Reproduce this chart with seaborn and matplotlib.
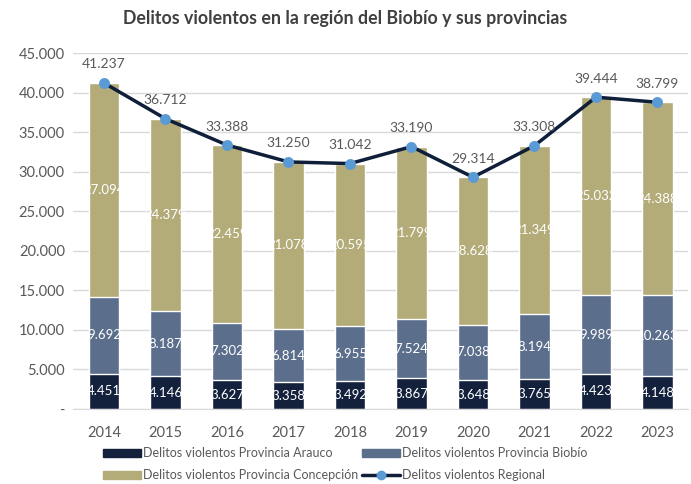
import numpy as np
import pandas as pd
import seaborn as sns
import matplotlib.pyplot as plt
from matplotlib.patches import Patch
from matplotlib.lines import Line2D

years = ["2014", "2015", "2016", "2017", "2018", "2019", "2020", "2021", "2022", "2023"]
arauco = [4451, 4146, 3627, 3358, 3492, 3867, 3648, 3765, 4423, 4148]
biobio = [9692, 8187, 7302, 6814, 6955, 7524, 7038, 8194, 9989, 10263]
concepcion = [27094, 24379, 22459, 21078, 20595, 21799, 18628, 21349, 25032, 24388]
regional = [41237, 36712, 33388, 31250, 31042, 33190, 29314, 33308, 39444, 38799]

c_arauco = "#14213d"
c_biobio = "#5b6e8c"
c_conc = "#b3ab78"
c_line = "#0f1f3a"
c_marker = "#5b9bd5"
gray = "#595959"


def fmt(v):
    return f"{v:,}".replace(",", ".")


df = pd.DataFrame({"year": years, "arauco": arauco, "biobio": biobio, "concepcion": concepcion,
                   "regional": regional})
df["top"] = df["arauco"] + df["biobio"] + df["concepcion"]
df["mid"] = df["arauco"] + df["biobio"]

sns.set_style("white")
plt.rcParams["font.family"] = ["Lato", "DejaVu Sans"]
fig = plt.figure(figsize=(6.91, 4.84), dpi=100)
ax = fig.add_axes([0.106, 0.155, 0.89, 0.735])

sns.barplot(data=df, x="year", y="top", color=c_conc, width=0.5, saturation=1, ax=ax, zorder=2)
sns.barplot(data=df, x="year", y="mid", color=c_biobio, width=0.5, saturation=1, ax=ax, zorder=2)
sns.barplot(data=df, x="year", y="arauco", color=c_arauco, width=0.5, saturation=1, ax=ax, zorder=2)
sns.pointplot(data=df, x="year", y="regional", color=c_line, markers="o", linewidth=2.5,
              markersize=6, markerfacecolor=c_marker, markeredgecolor=c_marker, ax=ax, zorder=4)

for i in range(len(years)):
    ax.text(i, arauco[i] / 2, fmt(arauco[i]), color="white", ha="center", va="center", fontsize=9.5, zorder=5)
    ax.text(i, arauco[i] + biobio[i] / 2, fmt(biobio[i]), color="white", ha="center", va="center",
            fontsize=9.5, zorder=5)
    ax.text(i, arauco[i] + biobio[i] + concepcion[i] / 2, fmt(concepcion[i]), color="white",
            ha="center", va="center", fontsize=9.5, zorder=5)
    ax.annotate(fmt(regional[i]), (i, regional[i]), xytext=(0, 9), textcoords="offset points",
                ha="center", va="bottom", fontsize=10, color=gray, zorder=5)

ax.set_ylim(0, 45000)
ax.set_xlim(-0.5, 9.5)
ticks = list(range(0, 45001, 5000))
ax.set_yticks(ticks)
ax.set_yticklabels(["-"] + [fmt(t) for t in ticks[1:]])
ax.yaxis.grid(True, color="#d9d9d9", linewidth=1, zorder=0)
ax.set_axisbelow(True)
ax.set_xlabel("")
ax.set_ylabel("")
ax.tick_params(axis="y", labelsize=10.5, colors=gray, length=0, pad=6)
ax.tick_params(axis="x", labelsize=10.5, colors=gray, length=0, pad=12)
for s in ["top", "right", "left"]:
    ax.spines[s].set_visible(False)
ax.spines["bottom"].set_color("#d9d9d9")

fig.suptitle("Delitos violentos en la región del Biobío y sus provincias", x=0.5, y=0.98,
             fontsize=12.8, fontweight="bold", color="#404040")

handles = [
    Patch(color=c_arauco, label="Delitos violentos Provincia Arauco"),
    Patch(color=c_conc, label="Delitos violentos Provincia Concepción"),
    Patch(color=c_biobio, label="Delitos violentos Provincia Biobío"),
    Line2D([0], [0], color=c_line, linewidth=2.5, marker="o", markersize=6,
           markerfacecolor=c_marker, markeredgecolor=c_marker, label="Delitos violentos Regional"),
]
leg = fig.legend(handles=handles, loc="lower center", bbox_to_anchor=(0.5, -0.018), ncol=2,
                 frameon=False, fontsize=9, handlelength=3, handleheight=0.5, handletextpad=0.2,
                 columnspacing=0.3, labelspacing=0.8, labelcolor=gray)

fig.savefig("out.png", dpi=100)
